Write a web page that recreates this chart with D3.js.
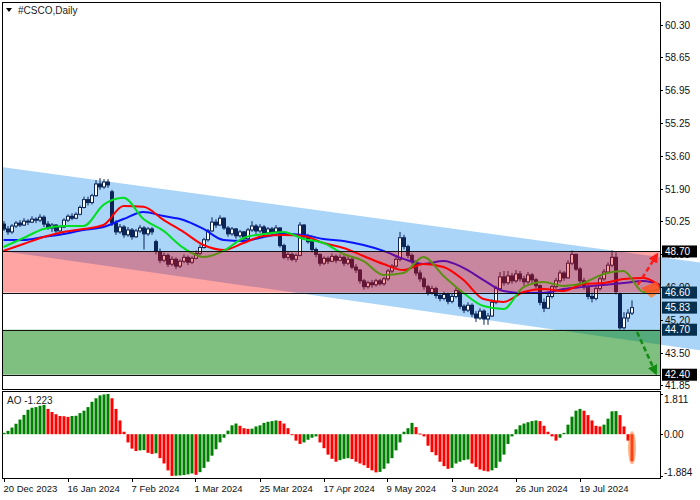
<!DOCTYPE html>
<html><head><meta charset="utf-8">
<script src="https://cdn.jsdelivr.net/npm/d3@7"></script>
<style>body{margin:0;background:#fff}svg{display:block;font-family:"Liberation Sans",Arial,sans-serif}</style>
</head><body><svg id="c" width="700" height="500"></svg>
<script>
// ---------- DATA ----------
const symbolTitle = "#CSCO,Daily";
const openP = [50.10,49.85,49.70,50.00,50.15,50.05,50.25,50.20,50.35,50.30,50.45,50.10,49.90,50.05,49.75,49.95,50.30,50.50,50.40,50.60,50.95,51.35,51.20,51.55,52.15,52.00,52.25,51.75,50.15,49.70,49.95,49.55,49.80,49.45,49.75,49.90,49.60,49.85,49.20,48.70,48.25,48.50,48.05,48.30,47.95,48.20,48.40,48.15,48.35,48.60,48.90,49.30,49.75,50.20,50.05,50.40,49.90,49.60,49.85,49.50,49.70,49.35,49.80,50.00,49.75,49.95,49.65,49.85,49.70,49.90,49.00,48.40,48.55,48.30,48.50,50.05,49.45,49.20,48.80,48.55,48.10,48.35,48.20,48.45,48.25,48.40,48.10,48.30,47.90,47.75,47.20,46.90,47.10,47.00,47.20,47.05,47.30,47.70,47.95,48.30,49.40,48.95,48.50,48.20,47.60,47.30,46.90,46.60,46.80,46.45,46.30,46.50,46.15,46.40,46.70,45.90,45.70,45.95,45.50,45.30,45.65,45.25,45.40,46.10,46.80,47.40,47.10,47.45,47.20,47.55,47.30,47.15,47.50,47.25,46.95,46.10,45.80,46.40,46.90,47.20,47.60,47.35,48.10,48.55,47.80,47.20,46.90,46.40,46.30,46.80,47.30,47.65,48.00,48.40,46.55,44.80,45.30,45.55];
const highP = [50.25,50.00,50.10,50.25,50.30,50.40,50.35,50.50,50.45,50.60,50.55,50.25,50.15,50.10,50.05,50.40,50.60,50.65,50.70,51.05,51.50,51.50,51.65,52.35,52.45,52.40,52.40,51.85,50.30,50.10,50.05,49.95,49.90,49.85,50.05,50.00,49.95,49.95,49.30,48.85,48.65,48.60,48.45,48.40,48.30,48.55,48.50,48.45,48.75,49.05,49.40,49.85,50.45,50.35,50.55,50.45,50.00,49.95,49.90,49.80,49.75,49.90,50.25,50.10,50.10,50.05,49.95,49.95,50.05,49.95,49.10,48.70,48.65,48.60,50.20,50.10,49.60,49.30,48.90,48.60,48.45,48.45,48.60,48.55,48.55,48.50,48.45,48.40,48.05,47.80,47.30,47.20,47.25,47.30,47.30,47.40,47.80,48.05,48.40,49.70,49.55,49.05,48.60,48.25,47.75,47.40,47.00,46.95,46.90,46.55,46.65,46.60,46.55,46.85,46.75,46.00,46.10,46.05,45.65,45.80,45.75,45.55,46.25,46.95,47.65,47.70,47.70,47.60,47.75,47.70,47.45,47.65,47.60,47.35,47.00,46.30,46.55,47.00,47.35,47.75,47.70,48.25,48.75,48.60,47.90,47.35,47.00,46.60,46.95,47.45,47.80,48.15,48.75,48.65,46.60,45.60,45.75,46.20];
const lowP = [49.75,49.55,49.60,49.90,49.95,50.00,50.05,50.15,50.15,50.20,49.95,49.80,49.70,49.55,49.65,49.90,50.20,50.30,50.35,50.55,50.90,51.05,51.10,51.50,51.85,51.90,51.95,50.00,49.55,49.60,49.40,49.45,49.30,49.40,49.65,48.80,49.50,49.55,48.55,48.10,48.15,47.90,47.95,47.80,47.85,48.10,48.00,48.05,48.30,48.50,48.85,49.20,49.70,49.90,50.00,49.80,49.45,49.50,49.35,49.40,49.20,49.30,49.70,49.60,49.65,49.55,49.55,49.60,49.60,48.90,48.30,48.25,48.20,48.15,48.45,49.35,49.10,48.65,48.40,47.95,48.00,48.05,48.15,48.10,48.20,47.95,48.00,47.80,47.60,47.05,46.75,46.80,46.85,46.90,46.95,46.95,47.20,47.60,47.85,48.20,48.80,48.35,48.05,47.45,47.15,46.75,46.45,46.50,46.30,46.15,46.20,46.00,46.05,46.30,45.75,45.55,45.60,45.35,45.10,45.20,44.95,44.95,45.35,46.00,46.70,46.95,47.00,47.05,47.10,47.15,46.95,47.05,47.10,46.80,45.95,45.60,45.75,46.30,46.80,47.10,47.20,47.30,48.00,47.70,47.05,46.75,46.25,46.10,46.20,46.70,47.20,47.55,47.90,46.50,44.70,44.70,45.10,45.45];
const closeP = [49.85,49.70,50.00,50.15,50.05,50.25,50.20,50.35,50.30,50.45,50.10,49.90,50.05,49.75,49.95,50.30,50.50,50.40,50.60,50.95,51.35,51.20,51.55,52.15,52.00,52.25,52.10,50.15,49.70,49.95,49.55,49.80,49.45,49.75,49.90,49.60,49.85,49.70,48.70,48.25,48.50,48.05,48.30,47.95,48.20,48.40,48.15,48.35,48.60,48.90,49.30,49.75,50.20,50.05,50.40,49.90,49.60,49.85,49.50,49.70,49.35,49.80,50.00,49.75,49.95,49.65,49.85,49.70,49.90,49.00,48.40,48.55,48.30,48.50,50.05,49.45,49.20,48.80,48.55,48.10,48.35,48.20,48.45,48.25,48.40,48.10,48.30,47.90,47.75,47.20,46.90,47.10,47.00,47.20,47.05,47.30,47.70,47.95,48.30,49.40,48.95,48.50,48.20,47.60,47.30,46.90,46.60,46.80,46.45,46.30,46.50,46.15,46.40,46.70,45.90,45.70,45.95,45.50,45.30,45.65,45.25,45.40,46.10,46.80,47.40,47.10,47.45,47.20,47.55,47.30,47.15,47.50,47.25,46.95,46.10,45.80,46.40,46.90,47.20,47.60,47.35,48.10,48.55,47.80,47.20,46.90,46.40,46.30,46.80,47.30,47.65,48.00,48.40,46.65,44.80,45.30,45.55,45.83];

// Awesome Oscillator (one value per bar)
const aoValues = [0.06,0.15,0.30,0.47,0.66,0.87,1.10,1.19,1.22,1.28,1.32,1.14,1.00,0.90,0.82,0.81,0.78,0.82,0.83,0.95,1.06,1.22,1.46,1.62,1.75,1.79,1.81,1.62,1.14,0.62,0.11,-0.37,-0.65,-0.76,-0.73,-0.72,-0.84,-0.89,-0.86,-1.08,-1.32,-1.63,-1.88,-1.87,-1.86,-1.84,-1.81,-1.77,-1.83,-1.71,-1.52,-1.24,-0.97,-0.68,-0.37,-0.16,0.16,0.40,0.48,0.38,0.27,0.24,0.25,0.35,0.40,0.51,0.56,0.59,0.62,0.60,0.48,0.27,0.00,-0.29,-0.44,-0.37,-0.25,-0.16,-0.10,-0.37,-0.63,-0.92,-1.11,-1.24,-1.17,-1.11,-1.08,-1.12,-1.24,-1.32,-1.40,-1.52,-1.63,-1.72,-1.70,-1.56,-1.32,-1.08,-0.73,-0.37,0.11,0.27,0.51,0.32,0.03,-0.10,-0.52,-0.81,-0.95,-1.24,-1.44,-1.56,-1.52,-1.32,-1.24,-1.17,-1.14,-1.32,-1.48,-1.59,-1.65,-1.68,-1.63,-1.52,-1.24,-0.92,-0.44,-0.10,0.22,0.40,0.48,0.54,0.59,0.62,0.59,0.38,0.11,-0.10,-0.29,-0.16,0.06,0.43,0.79,1.06,1.14,1.06,0.86,0.62,0.38,0.35,0.43,0.70,1.03,1.04,0.86,0.35,-0.29,-1.22];
const aoLabel = "AO -1.223";
const aoTicks = [1.811, 0, -1.884];
const aoTickLabels = ["1.811", "0.00", "-1.884"];

// Alligator lines, sampled every 5 bars (already shifted forward)
const alligatorBars = [0,5,10,15,20,25,30,35,40,45,50,55,60,65,70,75,80,85,90,95,100,105,110,115,120,125,130,135,140,145,150,155,160,165];
const jaw   = [49.29,49.29,49.44,49.59,49.80,49.95,50.36,50.72,50.51,50.31,49.85,49.29,49.24,49.44,49.59,49.54,49.34,49.24,49.03,48.73,48.32,48.06,48.21,47.86,47.24,46.68,46.58,46.58,46.78,46.89,46.99,47.09,47.19,46.94];
const teeth = [48.73,49.08,49.44,49.70,49.85,50.05,51.03,50.98,50.31,49.70,49.03,48.78,49.13,49.49,49.54,49.49,49.13,48.88,48.47,48.06,47.75,48.06,47.91,47.24,46.27,46.12,46.63,46.78,46.68,47.04,47.09,47.29,47.35,46.73];
const lips  = [48.93,49.39,49.85,50.00,50.00,51.08,51.44,50.36,49.75,48.88,48.42,48.73,49.39,49.59,49.70,49.34,49.13,48.57,48.21,47.50,47.60,48.42,47.45,46.58,45.91,45.76,46.88,47.14,46.94,47.09,47.55,47.70,46.63,46.83];

// Time axis
const dateTickBars = [0,16,32,48,64,80,96,112,128,144];
const dateLabels = ["20 Dec 2023","16 Jan 2024","7 Feb 2024","1 Mar 2024","25 Mar 2024","17 Apr 2024","9 May 2024","3 Jun 2024","26 Jun 2024","19 Jul 2024"];

// Price axis
const priceTicks = [60.30,58.65,56.95,55.25,53.60,51.90,50.25,48.55,46.90,45.20,43.50,41.85];
const resistanceZone = [48.70, 46.60];
const supportZone = [44.70, 42.40];
const levelBoxes = [48.70, 46.60, 45.83, 44.70, 42.40];
const levelBoxColors = ["#000000", "#06304f", "#06304f", "#06304f", "#000000"];

// Descending channel (bar index, price)
const channelBars = [-0.6, 175];
const channelUpper = [53.02, 48.11];
const channelLower = [48.73, 43.62];

// Forecast arrows and pivot marker (bar index, price)
const upArrow = [[158.6, 46.99], [163.4, 48.55]];
const downArrow = [[158.4, 44.58], [163.1, 42.47]];
const pivotMarker = [[159.4, 46.83], [163.6, 47.19], [164.1, 46.63], [161.9, 46.32]];

// ---------- LAYOUT ----------
const svg = d3.select("#c");
const L = 3, R = 660, T = 3, B = 389;
const aoT = 392, aoB = 478;
const N = closeP.length;

const x = d3.scaleLinear().domain([0, 164]).range([3.5, 659.5]);
const y = d3.scaleLinear().domain([41.67, 61.40]).range([B, T]);
const yAO = d3.scaleLinear().domain([-1.884, 1.811]).range([476, 394]);

const defs = svg.append("defs");
defs.append("clipPath").attr("id", "mainClip").append("rect").attr("x", L).attr("y", T).attr("width", R - L).attr("height", B - T);
defs.append("clipPath").attr("id", "wideClip").append("rect").attr("x", L).attr("y", T).attr("width", 700 - L).attr("height", B - T);
defs.append("marker").attr("id", "arrRed").attr("viewBox", "0 0 10 10").attr("refX", 8).attr("refY", 5)
  .attr("markerWidth", 4).attr("markerHeight", 4).attr("orient", "auto")
  .append("path").attr("d", "M0,0L10,5L0,10Z").attr("fill", "#ff1a1a");
defs.append("marker").attr("id", "arrGreen").attr("viewBox", "0 0 10 10").attr("refX", 8).attr("refY", 5)
  .attr("markerWidth", 4).attr("markerHeight", 4).attr("orient", "auto")
  .append("path").attr("d", "M0,0L10,5L0,10Z").attr("fill", "#138a13");

// channel (background, extends over the price scale)
const chan = svg.append("g").attr("clip-path", "url(#wideClip)");
chan.append("path")
  .attr("d", `M${x(channelBars[0])},${y(channelUpper[0])}L${x(channelBars[1])},${y(channelUpper[1])}L${x(channelBars[1])},${y(channelLower[1])}L${x(channelBars[0])},${y(channelLower[0])}Z`)
  .attr("fill", "#aad4f8");

const main = svg.append("g").attr("clip-path", "url(#mainClip)");

// candles
const candleColor = "#0b2557";
const bars = d3.range(N);
main.selectAll("line.wick").data(bars).join("line")
  .attr("x1", i => x(i) + 0.5).attr("x2", i => x(i) + 0.5)
  .attr("y1", i => y(highP[i])).attr("y2", i => y(lowP[i]))
  .attr("stroke", candleColor).attr("stroke-width", 1);
main.selectAll("rect.body").data(bars).join("rect")
  .attr("x", i => x(i) - 1)
  .attr("y", i => y(Math.max(openP[i], closeP[i])))
  .attr("width", 3)
  .attr("height", i => Math.max(1, Math.abs(y(openP[i]) - y(closeP[i]))))
  .attr("fill", i => closeP[i] >= openP[i] ? "#ffffff" : candleColor)
  .attr("stroke", candleColor).attr("stroke-width", 1);

// alligator
const lineGen = vals => d3.line().x((d, k) => x(alligatorBars[k])).y(d => y(d)).curve(d3.curveMonotoneX)(vals);
main.append("path").attr("d", lineGen(jaw)).attr("fill", "none").attr("stroke", "#0a14ff").attr("stroke-width", 2);
main.append("path").attr("d", lineGen(teeth)).attr("fill", "none").attr("stroke", "#ff0000").attr("stroke-width", 2);
main.append("path").attr("d", lineGen(lips)).attr("fill", "none").attr("stroke", "#00e020").attr("stroke-width", 2);

// pivot marker
main.append("path").attr("d", "M" + pivotMarker.map(p => `${x(p[0])},${y(p[1])}`).join("L") + "Z")
  .attr("fill", "rgba(255,130,50,0.85)");

// zones (semi transparent on top)
main.append("rect").attr("x", L).attr("width", R - L)
  .attr("y", y(resistanceZone[0])).attr("height", y(resistanceZone[1]) - y(resistanceZone[0]))
  .attr("fill", "rgba(255,0,0,0.36)");
main.append("rect").attr("x", L).attr("width", R - L)
  .attr("y", y(supportZone[0])).attr("height", y(supportZone[1]) - y(supportZone[0]))
  .attr("fill", "rgba(0,128,0,0.5)");
[...resistanceZone, ...supportZone].forEach(v => {
  main.append("line").attr("x1", L).attr("x2", R).attr("y1", Math.round(y(v)) + 0.5).attr("y2", Math.round(y(v)) + 0.5)
    .attr("stroke", "#111").attr("stroke-width", 1);
});

// arrows
const arrowLine = (pts, col, mk) => main.append("line")
  .attr("x1", x(pts[0][0])).attr("y1", y(pts[0][1])).attr("x2", x(pts[1][0])).attr("y2", y(pts[1][1]))
  .attr("stroke", col).attr("stroke-width", 2.5).attr("stroke-dasharray", "5,3").attr("marker-end", `url(#${mk})`);
arrowLine(upArrow, "#ff1a1a", "arrRed");
arrowLine(downArrow, "#138a13", "arrGreen");

// frames
svg.append("rect").attr("x", L - 0.5).attr("y", T - 0.5).attr("width", R - L + 1).attr("height", B - T + 1)
  .attr("fill", "none").attr("stroke", "#000");
svg.append("rect").attr("x", L - 0.5).attr("y", aoT - 0.5).attr("width", R - L + 1).attr("height", aoB - aoT + 1)
  .attr("fill", "none").attr("stroke", "#000");

// title
svg.append("path").attr("d", "M6,8L12,8L9,12Z").attr("fill", "#000");
svg.append("text").attr("x", 18).attr("y", 14).attr("font-size", 10).attr("fill", "#222").text(symbolTitle);

// price axis
const pa = svg.append("g");
priceTicks.forEach(v => {
  const yy = Math.round(y(v)) + 0.5;
  pa.append("line").attr("x1", R).attr("x2", R + 3).attr("y1", yy).attr("y2", yy).attr("stroke", "#000");
  pa.append("text").attr("x", 665).attr("y", yy).attr("dy", "0.35em").attr("font-size", 10).attr("fill", "#111").text(v.toFixed(2));
});
levelBoxes.forEach((v, k) => {
  const yy = y(v);
  pa.append("rect").attr("x", 662).attr("y", yy - 6).attr("width", 35).attr("height", 12).attr("fill", levelBoxColors[k]);
  pa.append("text").attr("x", 665).attr("y", yy).attr("dy", "0.35em").attr("font-size", 10).attr("fill", "#fff").text(v.toFixed(2));
});

// AO panel
const ao = svg.append("g");
ao.selectAll("rect").data(bars).join("rect")
  .attr("x", i => x(i) - 1)
  .attr("width", 3)
  .attr("y", i => Math.min(yAO(aoValues[i]), yAO(0)))
  .attr("height", i => Math.max(1, Math.abs(yAO(aoValues[i]) - yAO(0))))
  .attr("fill", i => (i > 0 && aoValues[i] < aoValues[i - 1]) ? "#ff0000" : "#008000");
// last-bar highlight
ao.append("ellipse").attr("cx", x(N - 1) + 0.5).attr("cy", (yAO(0) + yAO(aoValues[N - 1])) / 2)
  .attr("rx", 4).attr("ry", (yAO(aoValues[N - 1]) - yAO(0)) / 2 + 3).attr("fill", "rgba(255,120,40,0.55)");
ao.append("text").attr("x", 7).attr("y", 404).attr("font-size", 10).attr("fill", "#222").text(aoLabel);
aoTicks.forEach((v, k) => {
  const yy = Math.round(yAO(v)) + 0.5;
  ao.append("line").attr("x1", R).attr("x2", R + 3).attr("y1", yy).attr("y2", yy).attr("stroke", "#000");
  const ty = k === 0 ? aoT + 7 : (k === 2 ? aoB - 6 : yy);
  ao.append("text").attr("x", 664).attr("y", ty).attr("dy", "0.35em").attr("font-size", 10).attr("fill", "#111").text(aoTickLabels[k]);
});

// time axis
dateTickBars.forEach((b, k) => {
  const xx = Math.round(x(b)) + 0.5;
  svg.append("line").attr("x1", xx).attr("x2", xx).attr("y1", aoB).attr("y2", aoB + 4).attr("stroke", "#000");
  svg.append("text").attr("x", xx - 1).attr("y", 492).attr("font-size", 9.5).attr("fill", "#111").text(dateLabels[k]);
});
</script>
</body></html>
